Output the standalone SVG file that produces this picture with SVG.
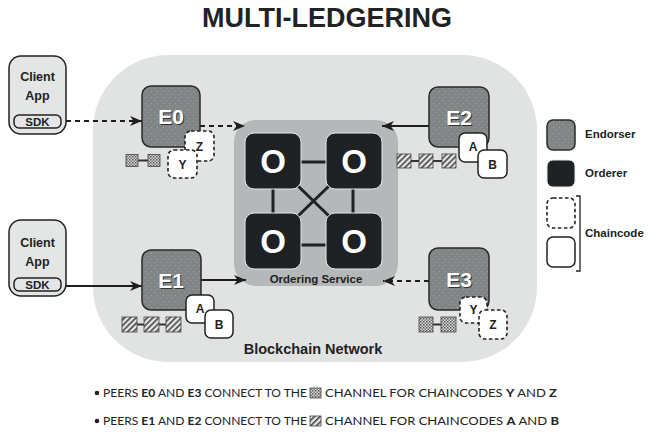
<svg xmlns="http://www.w3.org/2000/svg" width="654" height="438" viewBox="0 0 654 438">
<defs>
  <pattern id="cross" patternUnits="userSpaceOnUse" width="3" height="3">
    <rect width="3" height="3" fill="#d8d8d8"/>
    <rect width="1.5" height="1.5" fill="#555"/>
    <rect x="1.5" y="1.5" width="1.5" height="1.5" fill="#777"/>
  </pattern>
  <pattern id="hatch" patternUnits="userSpaceOnUse" width="4" height="4" patternTransform="rotate(45)">
    <rect width="4" height="4" fill="#e8e8e8"/>
    <rect width="1.6" height="4" fill="#444"/>
  </pattern>
  <pattern id="dots" patternUnits="userSpaceOnUse" width="6" height="6">
    <rect width="6" height="6" fill="#828585"/>
    <circle cx="1.5" cy="1.5" r="0.6" fill="#a4a7a7"/>
    <circle cx="4.5" cy="4.5" r="0.6" fill="#9a9d9d"/>
  </pattern>
  <marker id="arr" markerUnits="userSpaceOnUse" markerWidth="14" markerHeight="10" refX="12" refY="5" orient="auto">
    <path d="M0,0 L12,5 L0,10 L3.5,5 z" fill="#1e1e1e"/>
  </marker>
</defs>
<style>
  .t{font-family:"Liberation Sans",Arial,sans-serif;font-weight:bold;fill:#222;}
  .client{fill:#e4e6e6;stroke:#222;stroke-width:1.5;}
  .sdk{fill:#e4e6e6;stroke:#222;stroke-width:1.5;}
  .end{fill:url(#dots);stroke:#2a2a2a;stroke-width:1.5;}
  .ord{fill:#1f2224;stroke:#e8e8e8;stroke-width:1;}
  .cc{fill:#fff;stroke:#222;stroke-width:1.5;}
  .ccd{fill:#fff;stroke:#222;stroke-width:1.6;stroke-dasharray:3.5,2.5;}
  .elab{font-family:"Liberation Sans",Arial,sans-serif;font-weight:bold;font-size:21px;text-anchor:middle;}
  .olab{font-family:"Liberation Sans",Arial,sans-serif;font-weight:bold;font-size:33px;text-anchor:middle;fill:#fff;}
  .chx{fill:url(#cross);stroke:#444;stroke-width:0.8;}
  .chh{fill:url(#hatch);stroke:#444;stroke-width:0.8;}
  .link{stroke:#333;stroke-width:2;}
  .solid{stroke:#1e1e1e;stroke-width:2;fill:none;}
  .dash{stroke:#1e1e1e;stroke-width:2;fill:none;stroke-dasharray:5,4;}
  .omesh{stroke:#1f2224;stroke-width:3;fill:none;}
  .bul{font-family:Lato,"Open Sans",sans-serif;font-size:11.5px;fill:#222;}
  .bul tspan.b{font-weight:bold;}
</style>

<rect width="654" height="438" fill="#fff"/>

<text x="327" y="27" class="t" font-size="27" text-anchor="middle">MULTI-LEDGERING</text>

<g id="network">
  <rect x="93" y="55" width="444" height="307" rx="75" ry="75" fill="#e1e3e3"/>
  <text x="313" y="354" class="t" font-size="14.5" text-anchor="middle">Blockchain Network</text>
</g>

<g id="client1">
  <rect class="client" x="9" y="56" width="57" height="78" rx="12"/>
  <text x="37.5" y="81" class="t" font-size="12.5" text-anchor="middle">Client</text>
  <text x="37.5" y="100" class="t" font-size="12.5" text-anchor="middle">App</text>
  <rect class="sdk" x="14" y="115" width="47" height="13" rx="5"/>
  <text x="37.5" y="125.5" class="t" font-size="11.5" text-anchor="middle">SDK</text>
</g>

<g id="client2">
  <rect class="client" x="9" y="220" width="57" height="76" rx="12"/>
  <text x="37.5" y="247" class="t" font-size="12.5" text-anchor="middle">Client</text>
  <text x="37.5" y="266" class="t" font-size="12.5" text-anchor="middle">App</text>
  <rect class="sdk" x="14" y="278" width="47" height="13" rx="5"/>
  <text x="37.5" y="288.5" class="t" font-size="11.5" text-anchor="middle">SDK</text>
</g>

<g id="ordering-service">
  <rect x="234" y="120" width="164" height="166" rx="22" fill="#b5b8b8"/>
  <text x="316" y="283" class="t" font-size="11.5" text-anchor="middle" fill="#333">Ordering Service</text>
</g>

<g id="connectors">
  <path class="dash" d="M66,121 L142,121" marker-end="url(#arr)"/>
  <path class="dash" d="M200,126 L245,126" marker-end="url(#arr)"/>
  <path class="solid" d="M429,126 L382,126" marker-end="url(#arr)"/>
  <path class="solid" d="M66,286 L142,286" marker-end="url(#arr)"/>
  <path class="solid" d="M201,280 L246,280" marker-end="url(#arr)"/>
  <path class="dash" d="M429,281 L383,281" marker-end="url(#arr)"/>
  <path class="omesh" d="M300,162 L327,162 M300,245 L327,245 M273,188 L273,214 M353,188 L353,214 M298,186 L329,216 M329,186 L298,216"/>
</g>

<g id="orderer-tl"><rect class="ord" x="245" y="133" width="56" height="56" rx="9"/><text class="olab" x="273" y="173">O</text></g>
<g id="orderer-tr"><rect class="ord" x="326" y="133" width="56" height="56" rx="9"/><text class="olab" x="354" y="173">O</text></g>
<g id="orderer-bl"><rect class="ord" x="245" y="213" width="56" height="56" rx="9"/><text class="olab" x="273" y="253">O</text></g>
<g id="orderer-br"><rect class="ord" x="326" y="213" width="56" height="56" rx="9"/><text class="olab" x="354" y="253">O</text></g>

<g id="E0">
  <rect class="end" x="142" y="86" width="58" height="61" rx="9"/>
  <text class="elab" x="172" y="125" fill="#333">E0</text>
  <text class="elab" x="171" y="124" fill="#fff">E0</text>
  <rect class="ccd" x="185" y="131" width="29" height="30" rx="6"/>
  <text x="199.5" y="151" class="t" font-size="12" text-anchor="middle">Z</text>
  <rect class="ccd" x="168" y="150" width="29" height="28" rx="6"/>
  <text x="182.5" y="169" class="t" font-size="12" text-anchor="middle">Y</text>
  <line class="link" x1="137" y1="160.5" x2="149" y2="160.5"/>
  <rect class="chx" x="126" y="154.5" width="12" height="12"/>
  <rect class="chx" x="148" y="154.5" width="12" height="12"/>
</g>

<g id="E1">
  <rect class="end" x="142" y="250" width="59" height="60" rx="9"/>
  <text class="elab" x="172" y="289" fill="#333">E1</text>
  <text class="elab" x="171" y="288" fill="#fff">E1</text>
  <rect class="cc" x="186" y="295" width="28" height="28" rx="6"/>
  <text x="200" y="313" class="t" font-size="12" text-anchor="middle">A</text>
  <rect class="cc" x="205" y="310" width="28" height="28" rx="6"/>
  <text x="219" y="329" class="t" font-size="12" text-anchor="middle">B</text>
  <line class="link" x1="136" y1="324.5" x2="167" y2="324.5"/>
  <rect class="chh" x="122" y="317" width="15" height="15"/>
  <rect class="chh" x="144" y="317" width="15" height="15"/>
  <rect class="chh" x="166" y="317" width="15" height="15"/>
</g>

<g id="E2">
  <rect class="end" x="429" y="87" width="60" height="60" rx="9"/>
  <text class="elab" x="460" y="126" fill="#333">E2</text>
  <text class="elab" x="459" y="125" fill="#fff">E2</text>
  <rect class="cc" x="459" y="133" width="28" height="29" rx="6"/>
  <text x="473" y="151" class="t" font-size="12" text-anchor="middle">A</text>
  <rect class="cc" x="478" y="150" width="29" height="28" rx="6"/>
  <text x="492.5" y="169" class="t" font-size="12" text-anchor="middle">B</text>
  <line class="link" x1="411" y1="161" x2="443" y2="161"/>
  <rect class="chh" x="397" y="154" width="14" height="14"/>
  <rect class="chh" x="419" y="154" width="14" height="14"/>
  <rect class="chh" x="442" y="154" width="14" height="14"/>
</g>

<g id="E3">
  <rect class="end" x="429" y="248" width="60" height="62" rx="9"/>
  <text class="elab" x="460" y="288" fill="#333">E3</text>
  <text class="elab" x="459" y="287" fill="#fff">E3</text>
  <rect class="ccd" x="460" y="297" width="27" height="26" rx="6"/>
  <text x="473.5" y="314" class="t" font-size="12" text-anchor="middle">Y</text>
  <rect class="ccd" x="479" y="310" width="28" height="29" rx="6"/>
  <text x="493" y="329" class="t" font-size="12" text-anchor="middle">Z</text>
  <line class="link" x1="432" y1="324.5" x2="442" y2="324.5"/>
  <rect class="chx" x="419" y="317" width="14" height="15"/>
  <rect class="chx" x="441" y="317" width="15" height="15"/>
</g>

<g id="legend">
  <rect class="end" x="547" y="120" width="28" height="30" rx="6"/>
  <text x="585" y="138" class="t" font-size="11.5">Endorser</text>
  <rect class="ord" x="547" y="160" width="28" height="27" rx="6" stroke="#222"/>
  <text x="585" y="177" class="t" font-size="11.5">Orderer</text>
  <rect class="ccd" x="547" y="198" width="28" height="30" rx="6"/>
  <rect class="cc" x="547" y="237" width="28" height="30" rx="6"/>
  <path d="M576,196 L580,196 L580,271 L576,271" fill="none" stroke="#222" stroke-width="1.3"/>
  <text x="585" y="237" class="t" font-size="11.5">Chaincode</text>
</g>

<g id="notes">
  <circle cx="97" cy="393" r="2.3" fill="#222"/>
  <text class="bul" x="103" y="397" textLength="204" lengthAdjust="spacingAndGlyphs">PEERS <tspan class="b">E0</tspan> AND <tspan class="b">E3</tspan> CONNECT TO THE</text>
  <rect class="chx" x="310" y="388" width="11" height="10"/>
  <text class="bul" x="325" y="397" textLength="232" lengthAdjust="spacingAndGlyphs">CHANNEL FOR CHAINCODES <tspan class="b">Y</tspan> AND <tspan class="b">Z</tspan></text>
  <circle cx="97" cy="421" r="2.3" fill="#222"/>
  <text class="bul" x="103" y="425" textLength="204" lengthAdjust="spacingAndGlyphs">PEERS <tspan class="b">E1</tspan> AND <tspan class="b">E2</tspan> CONNECT TO THE</text>
  <rect class="chh" x="310" y="416" width="11" height="10"/>
  <text class="bul" x="325" y="425" textLength="234" lengthAdjust="spacingAndGlyphs">CHANNEL FOR CHAINCODES <tspan class="b">A</tspan> AND <tspan class="b">B</tspan></text>
</g>
</svg>
